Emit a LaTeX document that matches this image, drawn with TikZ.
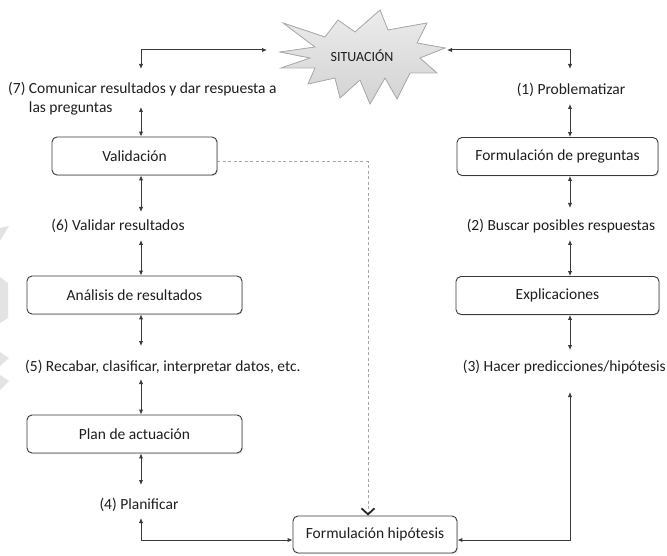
\documentclass[tikz,border=0pt]{standalone}
\usepackage{fontspec}
\setmainfont{Carlito}
\usetikzlibrary{arrows.meta,shadows}
\definecolor{txt}{HTML}{1E1E1E}
\definecolor{ln}{HTML}{3A3A3A}
\begin{document}
\begin{tikzpicture}[x=1pt,y=-1pt,
  every node/.style={text=txt,font=\fontsize{15.5}{18}\selectfont},
  stepbox/.style={draw=ln,line width=0.9pt,rounded corners=5pt,fill=white,
     minimum height=38pt,inner sep=0pt,
     drop shadow={opacity=0.25,shadow xshift=1pt,shadow yshift=-1pt}},
  lbl/.style={inner sep=0pt},
  conn/.style={draw=ln,line width=1pt,{Latex[length=5pt,width=4.5pt]}-{Latex[length=5pt,width=4.5pt]}},
  dashconn/.style={draw=gray!70,line width=1pt,dash pattern=on 3pt off 2.5pt,
     -{Straight Barb[length=6pt,width=13pt,line width=1.8pt,black!85]}}
]
\useasboundingbox (0,0) rectangle (667,556);

% faint watermark fragments on the left edge
\fill[gray!22] (0,228) -- (9,226) -- (0,241) -- cycle;
\fill[gray!22] (0,277) -- (8,283) -- (8,318) -- (0,323) -- cycle;
\fill[gray!22] (0,352) -- (9,358) -- (0,366) -- cycle;
\fill[gray!22] (0,375) -- (9,381) -- (0,390) -- cycle;

% star
\filldraw[draw=gray!65,line width=0.8pt,top color=gray!15,bottom color=gray!35]
 (280,52) -- (315,47) -- (283,23) -- (325,37) -- (338,20) -- (355,32) -- (380,10)
 -- (388,30) -- (427,23) -- (417,43) -- (445,48) -- (420,58) -- (437,73) -- (410,73)
 -- (397,99) -- (385,78) -- (370,104) -- (360,80) -- (340,98) -- (335,78) -- (308,84)
 -- (315,68) -- (281,68) -- (310,58) -- cycle;
\node[font=\fontsize{14}{16}\selectfont] (sit) at (362,56) {SITUACIÓN};
\coordinate (sitL) at (267,50);
\coordinate (sitR) at (447,50);

% left column
\node[lbl,anchor=north west,align=left] (lab7) at (8,82)
  {(7) Comunicar resultados y dar respuesta a\\[1pt]\phantom{(7) }las preguntas};
\node[stepbox,minimum width=165pt] (val) at (134.5,156) {Validación};
\node[lbl] (lab6) at (118,226) {(6) Validar resultados};
\node[stepbox,minimum width=215pt] (ana) at (134.5,295) {Análisis de resultados};
\node[lbl,anchor=west] (lab5) at (25,367) {(5) Recabar, clasificar, interpretar datos, etc.};
\node[stepbox,minimum width=215pt] (plan) at (134.5,434) {Plan de actuación};
\node[lbl] (lab4) at (139,505) {(4) Planificar};

% right column
\node[lbl] (lab1) at (571,90) {(1) Problematizar};
\node[stepbox,minimum width=201pt] (fp) at (557.5,156.5) {Formulación de preguntas};
\node[lbl] (lab2) at (561,226) {(2) Buscar posibles respuestas};
\node[stepbox,minimum width=203pt] (exp) at (557.5,295.5) {Explicaciones};
\node[lbl,anchor=east] (lab3) at (666,367) {(3) Hacer predicciones/hipótesis};

% bottom
\node[stepbox,minimum width=164pt,minimum height=37pt] (hip) at (375,534.5) {Formulación hipótesis};

% arrow coordinates
\coordinate (L) at (141,0);
\coordinate (R) at (570,0);
\coordinate (c7t) at (141,69);
\coordinate (c7b) at (141,107);
\coordinate (c6t) at (141,212);
\coordinate (c6b) at (141,240);
\coordinate (c5t) at (141,346);
\coordinate (c5b) at (141,379);
\coordinate (c4t) at (141,485);
\coordinate (c4b) at (141,518);
\coordinate (c1t) at (570,69);
\coordinate (c1b) at (570,104);
\coordinate (c2t) at (570,208);
\coordinate (c2b) at (570,240);
\coordinate (c3t) at (570,350);
\coordinate (c3b) at (570,392);
\coordinate (dx) at (368,0);

% connectors
\draw[conn] (c7t) |- (sitL);
\draw[conn] (c1t) |- (sitR);
\draw[conn] (c7b) -- (val.north -| L);
\draw[conn] (val.south -| L) -- (c6t);
\draw[conn] (c6b) -- (ana.north -| L);
\draw[conn] (ana.south -| L) -- (c5t);
\draw[conn] (c5b) -- (plan.north -| L);
\draw[conn] (plan.south -| L) -- (c4t);
\draw[conn] (c4b) |- ([yshift=-5.5pt]hip.west);
\draw[conn] (c1b) -- (fp.north -| R);
\draw[conn] (fp.south -| R) -- (c2t);
\draw[conn] (c2b) -- (exp.north -| R);
\draw[conn] (exp.south -| R) -- (c3t);
\draw[conn] (c3b) |- ([yshift=-5.5pt]hip.east);
\draw[dashconn] ([yshift=-6pt]val.east) -| (hip.north -| dx);
\end{tikzpicture}
\end{document}
